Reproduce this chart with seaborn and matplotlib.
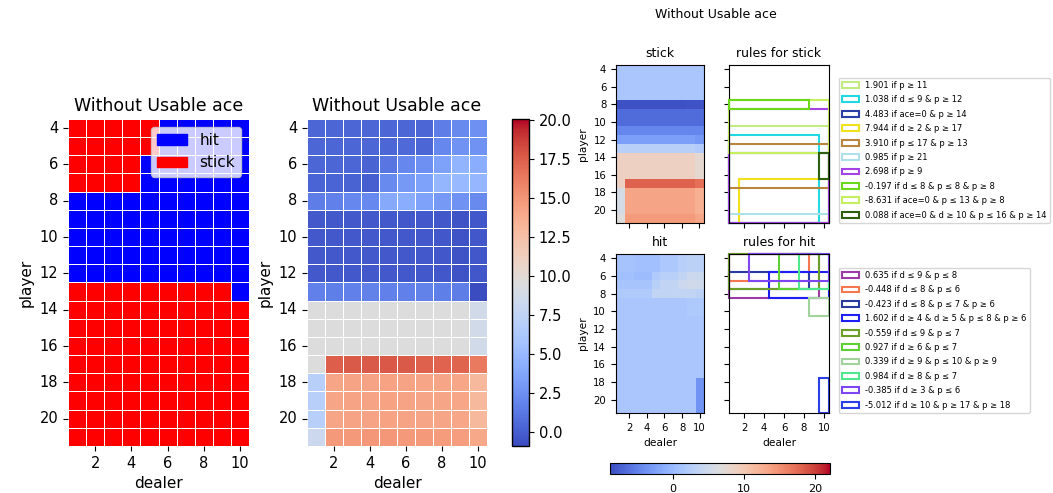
import numpy as np
import pandas as pd
import matplotlib
matplotlib.use("Agg")
import matplotlib.pyplot as plt
import seaborn as sns
from matplotlib.colors import ListedColormap, Normalize
from matplotlib.patches import Patch, Rectangle

# %% data
dealer = list(range(1, 11))
player = list(range(4, 22))

# 1 = stick, 0 = hit  (rows: player 4..21, cols: dealer 1..10)
policy = [
    [1, 1, 1, 1, 1, 0, 0, 0, 0, 0],
    [1, 1, 1, 1, 1, 0, 0, 0, 0, 0],
    [1, 1, 1, 1, 0, 0, 0, 0, 0, 0],
    [1, 1, 1, 1, 0, 0, 0, 0, 0, 0],
    [0, 0, 0, 0, 0, 0, 0, 0, 0, 0],
    [0, 0, 0, 0, 0, 0, 0, 0, 0, 0],
    [0, 0, 0, 0, 0, 0, 0, 0, 0, 0],
    [0, 0, 0, 0, 0, 0, 0, 0, 0, 0],
    [0, 0, 0, 0, 0, 0, 0, 0, 0, 0],
    [1, 1, 1, 1, 1, 1, 1, 1, 1, 0],
    [1, 1, 1, 1, 1, 1, 1, 1, 1, 1],
    [1, 1, 1, 1, 1, 1, 1, 1, 1, 1],
    [1, 1, 1, 1, 1, 1, 1, 1, 1, 1],
    [1, 1, 1, 1, 1, 1, 1, 1, 1, 1],
    [1, 1, 1, 1, 1, 1, 1, 1, 1, 1],
    [1, 1, 1, 1, 1, 1, 1, 1, 1, 1],
    [1, 1, 1, 1, 1, 1, 1, 1, 1, 1],
    [1, 1, 1, 1, 1, 1, 1, 1, 1, 1],
]

value = [
    [0.4, 0.4, 0.4, 0.4, 0.4, 0.4, 0.4, 1.5, 2.2, 2.5],
    [0.4, 0.4, 0.4, 0.4, 0.4, 0.5, 0.4, 2.0, 2.6, 2.6],
    [0.4, 0.4, 0.4, 0.2, 1.1, 2.0, 2.5, 3.5, 4.6, 4.2],
    [0.3, 0.3, 0.2, 0.0, 2.2, 3.0, 3.5, 4.8, 5.0, 4.9],
    [1.5, 1.7, 2.0, 2.1, 4.0, 4.2, 3.5, 3.0, 2.6, 2.2],
    [-0.3, -0.3, -0.3, -0.3, -0.3, -0.3, -0.3, -0.4, -0.5, -0.4],
    [-0.3, -0.3, -0.3, -0.3, -0.3, -0.3, -0.3, -0.4, -0.5, -0.4],
    [-0.3, -0.3, -0.3, -0.3, -0.3, -0.3, -0.3, -0.4, -0.5, -0.4],
    [-0.3, -0.3, -0.3, -0.3, -0.3, -0.3, -0.3, -0.4, -0.5, -0.4],
    [1.7, 1.6, 1.7, 1.8, 1.7, 1.7, 1.8, 1.6, 1.5, -0.85],
    [9.6, 9.6, 9.6, 9.6, 9.6, 9.6, 9.6, 9.6, 9.6, 8.6],
    [9.6, 9.6, 9.6, 9.6, 9.6, 9.6, 9.6, 9.6, 9.6, 8.6],
    [9.6, 9.6, 9.6, 9.6, 9.6, 9.6, 9.6, 9.6, 9.6, 8.6],
    [9.6, 17.5, 17.6, 17.6, 17.7, 17.6, 17.4, 17.3, 17.2, 16.3],
    [6.9, 14.2, 14.3, 14.3, 14.4, 14.3, 14.2, 14.2, 14.1, 13.0],
    [6.9, 14.2, 14.3, 14.3, 14.4, 14.3, 14.2, 14.2, 14.1, 13.0],
    [6.9, 14.2, 14.3, 14.3, 14.4, 14.3, 14.2, 14.2, 14.1, 13.0],
    [8.2, 14.8, 14.8, 14.9, 14.9, 14.8, 14.8, 14.7, 14.6, 14.0],
]

stick_q = [
    [1.4, 1.4, 1.4, 1.4, 1.4, 1.4, 1.4, 1.4, 1.4, 1.4],
    [1.4, 1.4, 1.4, 1.4, 1.4, 1.4, 1.4, 1.4, 1.4, 1.4],
    [1.4, 1.4, 1.4, 1.4, 1.4, 1.4, 1.4, 1.4, 1.4, 1.4],
    [1.4, 1.4, 1.4, 1.4, 1.4, 1.4, 1.4, 1.4, 1.4, 1.4],
    [-8.5, -8.5, -8.5, -8.5, -8.5, -8.5, -8.5, -8.5, -8.3, -8.3],
    [-6.7, -6.7, -6.7, -6.7, -6.7, -6.7, -6.7, -6.7, -6.7, -6.7],
    [-6.7, -6.7, -6.7, -6.7, -6.7, -6.7, -6.7, -6.7, -6.7, -6.7],
    [-4.6, -4.6, -4.6, -4.6, -4.6, -4.6, -4.6, -4.6, -4.6, -4.6],
    [-2.5, -2.5, -2.5, -2.5, -2.5, -2.5, -2.5, -2.5, -2.5, -3.2],
    [2.8, 2.8, 2.8, 2.8, 2.8, 2.8, 2.8, 2.8, 2.8, 2.2],
    [8.8, 8.8, 8.8, 8.8, 8.8, 8.8, 8.8, 8.8, 8.8, 7.6],
    [8.8, 8.8, 8.8, 8.8, 8.8, 8.8, 8.8, 8.8, 8.8, 7.6],
    [8.8, 8.8, 8.8, 8.8, 8.8, 8.8, 8.8, 8.8, 8.8, 7.6],
    [8.8, 18.1, 18.1, 18.1, 18.1, 18.1, 18.1, 18.1, 18.1, 17.2],
    [5.7, 13.4, 13.4, 13.4, 13.4, 13.4, 13.4, 13.4, 13.4, 12.5],
    [5.7, 13.4, 13.4, 13.4, 13.4, 13.4, 13.4, 13.4, 13.4, 12.5],
    [5.7, 13.4, 13.4, 13.4, 13.4, 13.4, 13.4, 13.4, 13.4, 12.5],
    [6.6, 14.2, 14.2, 14.2, 14.2, 14.2, 14.2, 14.2, 14.2, 13.3],
]

hit_q = [
    [1.1, 1.1, 0.7, 0.7, 0.7, 1.7, 1.7, 2.7, 3.1, 3.0],
    [1.1, 1.1, 0.7, 0.7, 0.7, 1.7, 1.7, 2.7, 3.1, 3.0],
    [0.7, 0.7, 0.3, 0.3, 1.9, 2.9, 2.9, 3.8, 4.7, 4.6],
    [1.2, 1.2, 1.2, 1.2, 2.8, 3.7, 3.7, 4.7, 5.1, 5.0],
    [2.1, 2.1, 2.1, 2.1, 3.7, 3.7, 3.7, 3.7, 3.7, 3.1],
    [1.5, 1.5, 1.5, 1.5, 1.5, 1.5, 1.5, 1.5, 1.8, 1.8],
    [1.5, 1.5, 1.5, 1.5, 1.5, 1.5, 1.5, 1.5, 1.8, 1.8],
    [1.5, 1.5, 1.5, 1.5, 1.5, 1.5, 1.5, 1.5, 1.5, 1.5],
    [1.5, 1.5, 1.5, 1.5, 1.5, 1.5, 1.5, 1.5, 1.5, 1.5],
    [1.5, 1.5, 1.5, 1.5, 1.5, 1.5, 1.5, 1.5, 1.5, 1.5],
    [1.5, 1.5, 1.5, 1.5, 1.5, 1.5, 1.5, 1.5, 1.5, 1.5],
    [1.5, 1.5, 1.5, 1.5, 1.5, 1.5, 1.5, 1.5, 1.5, 1.5],
    [1.5, 1.5, 1.5, 1.5, 1.5, 1.5, 1.5, 1.5, 1.5, 1.5],
    [1.5, 1.5, 1.5, 1.5, 1.5, 1.5, 1.5, 1.5, 1.5, 1.5],
    [1.5, 1.5, 1.5, 1.5, 1.5, 1.5, 1.5, 1.5, 1.5, -3.5],
    [1.5, 1.5, 1.5, 1.5, 1.5, 1.5, 1.5, 1.5, 1.5, -3.5],
    [1.5, 1.5, 1.5, 1.5, 1.5, 1.5, 1.5, 1.5, 1.5, -3.5],
    [1.5, 1.5, 1.5, 1.5, 1.5, 1.5, 1.5, 1.5, 1.5, -3.5],
]

# rules: label, colour, (dealer lo, dealer hi, player lo, player hi)
stick_labels = [
    "1.901 if p ≥ 11",
    "1.038 if d ≤ 9 & p ≥ 12",
    "4.483 if ace=0 & p ≥ 14",
    "7.944 if d ≥ 2 & p ≥ 17",
    "3.910 if p ≤ 17 & p ≥ 13",
    "0.985 if p ≥ 21",
    "2.698 if p ≥ 9",
    "-0.197 if d ≤ 8 & p ≤ 8 & p ≥ 8",
    "-8.631 if ace=0 & p ≤ 13 & p ≥ 8",
    "0.088 if ace=0 & d ≥ 10 & p ≤ 16 & p ≥ 14",
]
stick_colors = ["#c2ec82", "#22d8e2", "#2b3fa6", "#efe11a", "#b8843e",
                "#aee0ea", "#a442e8", "#6cd81a", "#c6ef5f", "#2e5e0f"]
stick_boxes = [(1, 10, 11, 21), (1, 9, 12, 21), (1, 10, 14, 21), (2, 10, 17, 21),
               (1, 10, 13, 17), (1, 10, 21, 21), (1, 10, 9, 21), (1, 8, 8, 8),
               (1, 10, 8, 13), (10, 10, 14, 16)]

hit_labels = [
    "0.635 if d ≤ 9 & p ≤ 8",
    "-0.448 if d ≤ 8 & p ≤ 6",
    "-0.423 if d ≤ 8 & p ≤ 7 & p ≥ 6",
    "1.602 if d ≥ 4 & d ≥ 5 & p ≤ 8 & p ≥ 6",
    "-0.559 if d ≤ 9 & p ≤ 7",
    "0.927 if d ≥ 6 & p ≤ 7",
    "0.339 if d ≥ 9 & p ≤ 10 & p ≥ 9",
    "0.984 if d ≥ 8 & p ≤ 7",
    "-0.385 if d ≥ 3 & p ≤ 6",
    "-5.012 if d ≥ 10 & p ≥ 17 & p ≥ 18",
]
hit_colors = ["#9c3aa8", "#f4774f", "#2a3aa0", "#1f1ff5", "#6b9f2a",
              "#5fcf36", "#a3d39c", "#4fe88f", "#7d46f2", "#2c3fe6"]
hit_boxes = [(1, 9, 4, 8), (1, 8, 4, 6), (1, 8, 6, 7), (5, 10, 6, 8), (1, 9, 4, 7),
             (6, 10, 4, 7), (9, 10, 9, 10), (8, 10, 4, 7), (3, 10, 4, 6), (10, 10, 18, 21)]

# %% layout helpers
W, H = 1053, 493
fig = plt.figure(figsize=(W / 100, H / 100), dpi=100)


def box(l, t, r, b):
    return [l / W, 1 - b / H, (r - l) / W, (b - t) / H]


def heat_ticks(ax, size):
    ax.set_xticks([d - 0.5 for d in dealer[1::2]])
    ax.set_xticklabels(dealer[1::2], rotation=0, fontsize=size)
    ax.set_yticks([p - 3.5 for p in player[::2]])
    ax.set_yticklabels(player[::2], rotation=0, fontsize=size)


# %% policy
ax1 = fig.add_axes(box(68, 119, 249, 446))
sns.heatmap(pd.DataFrame(policy, index=player, columns=dealer), ax=ax1,
            cmap=ListedColormap(["blue", "red"]), vmin=0, vmax=1, cbar=False,
            linewidths=0.5, linecolor="white")
heat_ticks(ax1, 10.5)
ax1.set_title("Without Usable ace", fontsize=12.5)
ax1.set_xlabel("dealer", fontsize=11)
ax1.set_ylabel("player", fontsize=11)
ax1.legend(handles=[Patch(color="blue", label="hit"), Patch(color="red", label="stick")],
           loc="upper right", fontsize=11)

# %% state value
ax2 = fig.add_axes(box(307, 119, 487, 446))
cax2 = fig.add_axes(box(512, 119, 529, 446))
sns.heatmap(pd.DataFrame(value, index=player, columns=dealer), ax=ax2, cbar_ax=cax2,
            cmap="coolwarm", vmin=-0.9, vmax=20.05, linewidths=0.5, linecolor="white")
heat_ticks(ax2, 10.5)
ax2.set_title("Without Usable ace", fontsize=12.5)
ax2.set_xlabel("dealer", fontsize=11)
ax2.set_ylabel("player", fontsize=11)
cb = ax2.collections[0].colorbar
cb.outline.set_linewidth(1)
cb.outline.set_edgecolor("black")
cb.set_ticks([0, 2.5, 5, 7.5, 10, 12.5, 15, 17.5, 20])
cb.ax.set_yticklabels(["0.0", "2.5", "5.0", "7.5", "10.0", "12.5", "15.0", "17.5", "20.0"])
cb.ax.tick_params(labelsize=10.5)

# %% rule fit panels
fig.text(716 / W, 1 - 15 / H, "Without Usable ace", ha="center", va="center", fontsize=9)
norm = Normalize(-8.9, 22.1)
ext = (0.5, 10.5, 21.5, 3.5)

ax_s = fig.add_axes(box(610, 65, 710, 223))
im = ax_s.imshow(np.array(stick_q), cmap="coolwarm", norm=norm, extent=ext)
ax_h = fig.add_axes(box(610, 254, 710, 413))
ax_h.imshow(np.array(hit_q), cmap="coolwarm", norm=norm, extent=ext)
ax_rs = fig.add_axes(box(729, 65, 829, 223))
ax_rh = fig.add_axes(box(729, 254, 829, 413))

for ax, boxes, colors, labels, bottom in [(ax_rs, stick_boxes, stick_colors, stick_labels, 223),
                                          (ax_rh, hit_boxes, hit_colors, hit_labels, 413)]:
    ax.set_xlim(0.5, 10.5)
    ax.set_ylim(21.5, 3.5)
    for i, ((d0, d1, p0, p1), c) in enumerate(zip(boxes, colors)):
        z = 3 if (ax is ax_rs and i == 7) else 2
        ax.add_patch(Rectangle((d0 - 0.5, p0 - 0.5), d1 - d0 + 1, p1 - p0 + 1,
                               fill=False, edgecolor=c, lw=1.5, clip_on=False, zorder=z))
    handles = [Patch(facecolor="white", edgecolor=c, lw=1.5, label=lab)
               for c, lab in zip(colors, labels)]
    ax.legend(handles=handles, loc="lower left", bbox_to_anchor=(838.5 / W, 1 - bottom / H),
              bbox_transform=fig.transFigure, borderaxespad=0, fontsize=6, labelspacing=0.65)

for ax, title in [(ax_s, "stick"), (ax_rs, "rules for stick"), (ax_h, "hit"), (ax_rh, "rules for hit")]:
    ax.set_title(title, fontsize=9)
    ax.set_xticks(dealer[1::2])
    ax.set_yticks(player[::2])
    ax.tick_params(labelsize=7.3)

ax_s.tick_params(labelbottom=False)
ax_rs.tick_params(labelbottom=False, labelleft=False)
ax_rh.tick_params(labelleft=False)
ax_s.set_ylabel("player", fontsize=7.7)
ax_h.set_ylabel("player", fontsize=7.7)
ax_h.set_xlabel("dealer", fontsize=7.7)
ax_rh.set_xlabel("dealer", fontsize=7.7)

cax = fig.add_axes(box(610, 463, 830, 474))
hcb = fig.colorbar(im, cax=cax, orientation="horizontal")
hcb.set_ticks([0, 10, 20])
hcb.ax.tick_params(labelsize=8)

fig.savefig("out.png", dpi=100)
